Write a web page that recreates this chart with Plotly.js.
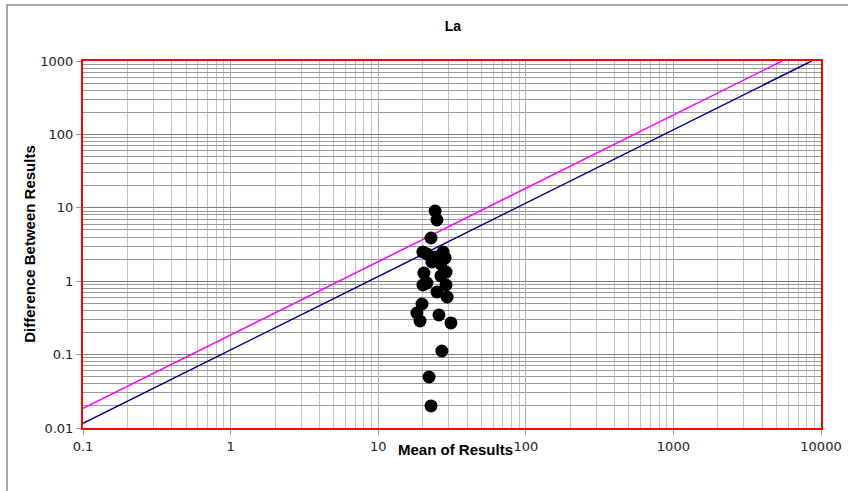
<!DOCTYPE html>
<html>
<head>
<meta charset="utf-8">
<script src="https://cdn.plot.ly/plotly-3.0.1.min.js"></script>
<style>html,body{margin:0;padding:0;background:#fff;}#chart{width:848px;height:491px;}</style>
</head>
<body>
<div id="chart"></div>
<script>
// Scatter: mean of results vs difference between results
var meanVals = [24.3, 25.0, 22.8, 20.1, 21.4, 24.3, 27.5, 28.4, 23.1, 26.6, 28.8, 20.4, 26.6, 21.4, 20.1, 28.8, 25.0, 29.3, 19.8, 18.3, 25.8, 19.2, 31.1, 27.0, 22.1, 22.8];
var diffVals = [9.04, 6.82, 3.88, 2.50, 2.35, 2.14, 2.50, 2.07, 1.83, 1.72, 1.33, 1.29, 1.18, 0.945, 0.888, 0.888, 0.713, 0.609, 0.489, 0.369, 0.347, 0.287, 0.270, 0.112, 0.0495, 0.0200];
// Reference lines (endpoints)
var magentaX = [0.1, 5450];
var magentaY = [0.0185, 1000];
var navyX = [0.1, 8650];
var navyY = [0.0116, 1000];
// Tick labels
var xTickVals = [0.1, 1, 10, 100, 1000, 10000];
var xTickText = ['0.1', '1', '10', '100', '1000', '10000'];
var yTickVals = [0.01, 0.1, 1, 10, 100, 1000];
var yTickText = ['0.01', '0.1', '1', '10', '100', '1000'];

var boldFont = 'Liberation Sans, Arial, sans-serif';
var tickFontFamily = 'DejaVu Sans, sans-serif';

var traces = [
  {x: magentaX, y: magentaY, mode: 'lines', line: {color: '#ff00ff', width: 1.5}, hoverinfo: 'skip'},
  {x: navyX, y: navyY, mode: 'lines', line: {color: '#000080', width: 1.5}, hoverinfo: 'skip'},
  {x: meanVals, y: diffVals, mode: 'markers', marker: {color: '#000000', size: 13}, cliponaxis: false}
];

var axisCommon = {
  type: 'log',
  tickmode: 'array',
  showgrid: true,
  zeroline: false,
  showline: true,
  mirror: true,
  linecolor: '#ff0000',
  linewidth: 2,
  ticks: 'outside',
  ticklen: 5,
  tickcolor: '#999',
  tickfont: {family: tickFontFamily, size: 13, color: '#222'}
};

var layout = {
  width: 848, height: 491,
  margin: {l: 83, r: 27, t: 61, b: 63},
  paper_bgcolor: '#ffffff',
  plot_bgcolor: '#ffffff',
  showlegend: false,
  title: {text: '<b>La</b>', font: {family: boldFont, size: 14, color: '#000'}, x: 0.534, xanchor: 'center', y: 0.947, yanchor: 'middle'},
  xaxis: Object.assign({}, axisCommon, {
    range: [-1, 4], tickvals: xTickVals, ticktext: xTickText,
    gridcolor: '#b0b0b0', minor: {dtick: 'D1', showgrid: true, gridcolor: '#c4c4c4', ticks: ''}
  }),
  yaxis: Object.assign({}, axisCommon, {
    range: [-2, 3], tickvals: yTickVals, ticktext: yTickText,
    gridcolor: '#808080', minor: {dtick: 'D1', showgrid: true, gridcolor: '#9a9a9a', ticks: ''}
  }),
  annotations: [
    {text: '<b>Mean of Results</b>', xref: 'paper', yref: 'paper', x: 0.5047, y: -0.058, xanchor: 'center', yanchor: 'middle', showarrow: false, font: {family: boldFont, size: 15, color: '#000'}},
    {text: '<b>Difference Between Results</b>', xref: 'paper', yref: 'paper', x: -0.0718, y: 0.502, xanchor: 'center', yanchor: 'middle', textangle: -90, showarrow: false, font: {family: boldFont, size: 15, color: '#000'}}
  ],
  shapes: [
    {type: 'rect', xref: 'paper', yref: 'paper', x0: -0.103, x1: 1.2, y0: -0.4, y1: 1.1526, line: {color: '#8c8c8c', width: 1.5}, layer: 'below'}
  ]
};

Plotly.newPlot('chart', traces, layout, {displayModeBar: false, staticPlot: true});
</script>
</body>
</html>
